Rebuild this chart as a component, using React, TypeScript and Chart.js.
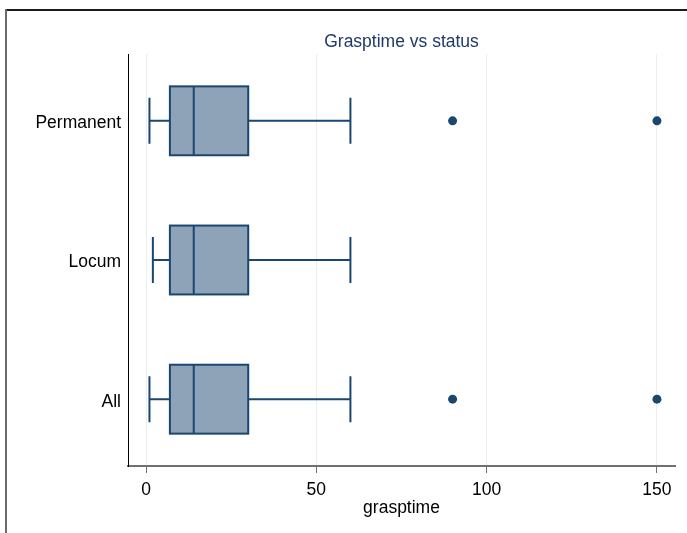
import React, { useEffect, useRef } from "react";
import { Chart, registerables } from "chart.js";
Chart.register(...registerables);

const categories = ["Permanent", "Locum", "All"];
const whiskerLow = [1, 2, 1];
const q1 = [7, 7, 7];
const median = [14, 14, 14];
const q3 = [30, 30, 30];
const whiskerHigh = [60, 60, 60];
const outliers: number[][] = [[90, 150], [], [90, 150]];
const xTicks = [0, 50, 100, 150];
const chartTitle = "Grasptime vs status";
const xTitle = "grasptime";

const NAVY = "#1a476f";
const FILL = "#8ea3b8";
const FONT = '"Liberation Sans", Arial, sans-serif';
const FS = 17.5;

export default function App() {
  const ref = useRef<HTMLCanvasElement | null>(null);
  useEffect(() => {
    document.body.style.margin = "0";
    const canvas = ref.current!;
    const boxPlugin = {
      id: "boxes",
      beforeDraw(chart: any) {
        const ctx = chart.ctx;
        ctx.save();
        ctx.fillStyle = "#fff";
        ctx.fillRect(0, 0, chart.width, chart.height);
        ctx.fillStyle = "#1a1a1a";
        ctx.fillRect(5, 9, chart.width - 5, 2);
        ctx.fillStyle = "#6a6a6a";
        ctx.fillRect(5, 9, 2, chart.height - 9);
        ctx.restore();
      },
      beforeDatasetsDraw(chart: any) {
        const ctx = chart.ctx;
        const xs = chart.scales.x;
        const ys = chart.scales.y;
        const half = Math.abs(ys.getPixelForValue(1.2475) - ys.getPixelForValue(1));
        const cap = Math.abs(ys.getPixelForValue(1.165) - ys.getPixelForValue(1));
        ctx.save();
        ctx.strokeStyle = NAVY;
        ctx.lineWidth = 2;
        categories.forEach((_, i) => {
          const yc = ys.getPixelForValue(i + 1);
          const xl = xs.getPixelForValue(whiskerLow[i]);
          const x1 = xs.getPixelForValue(q1[i]);
          const xm = xs.getPixelForValue(median[i]);
          const x3 = xs.getPixelForValue(q3[i]);
          const xh = xs.getPixelForValue(whiskerHigh[i]);
          ctx.beginPath();
          ctx.moveTo(xl, yc);
          ctx.lineTo(x1, yc);
          ctx.moveTo(x3, yc);
          ctx.lineTo(xh, yc);
          ctx.moveTo(xl, yc - cap);
          ctx.lineTo(xl, yc + cap);
          ctx.moveTo(xh, yc - cap);
          ctx.lineTo(xh, yc + cap);
          ctx.stroke();
          ctx.fillStyle = FILL;
          ctx.fillRect(x1, yc - half, x3 - x1, 2 * half);
          ctx.strokeRect(x1, yc - half, x3 - x1, 2 * half);
          ctx.beginPath();
          ctx.moveTo(xm, yc - half);
          ctx.lineTo(xm, yc + half);
          ctx.stroke();
        });
        ctx.restore();
      },
      afterDraw(chart: any) {
        const ctx = chart.ctx;
        const a = chart.chartArea;
        ctx.save();
        ctx.font = `${FS}px ${FONT}`;
        ctx.fillStyle = "#1f3a68";
        ctx.textAlign = "center";
        ctx.textBaseline = "middle";
        ctx.fillText(chartTitle, (a.left + a.right) / 2, 42);
        ctx.restore();
      },
    };

    const outlierData: { x: number; y: number }[] = [];
    outliers.forEach((arr, i) => arr.forEach((v) => outlierData.push({ x: v, y: i + 1 })));

    const chart = new Chart(canvas, {
      type: "scatter",
      data: {
        datasets: [
          {
            data: outlierData,
            backgroundColor: NAVY,
            borderColor: NAVY,
            pointRadius: 4.5,
            pointBorderWidth: 0,
          },
        ],
      },
      options: {
        animation: false,
        responsive: false,
        events: [],
        layout: { padding: { top: 54, right: 12, left: 0, bottom: 0 } },
        plugins: { legend: { display: false }, tooltip: { enabled: false }, title: { display: false } },
        scales: {
          x: {
            type: "linear",
            min: -5.3,
            max: 155.3,
            afterBuildTicks: (s: any) => {
              s.ticks = xTicks.map((v) => ({ value: v }));
            },
            afterFit: (s: any) => {
              s.height = 67;
            },
            grid: { color: "#e8eff2", lineWidth: 1, drawTicks: true, tickLength: 7, tickColor: "#707070", tickWidth: 1 },
            border: { display: true, color: "#707070", width: 2 },
            ticks: { font: { family: FONT, size: FS }, color: "#000", padding: 7, maxRotation: 0 },
            title: { display: true, text: xTitle, font: { family: FONT, size: FS }, color: "#000", padding: { top: 0, bottom: 14 } },
          },
          y: {
            type: "linear",
            reverse: true,
            min: 0.52,
            max: 3.48,
            afterBuildTicks: (s: any) => {
              s.ticks = categories.map((_, i) => ({ value: i + 1 }));
            },
            afterFit: (s: any) => {
              s.width = 128;
            },
            grid: { display: false, drawTicks: false },
            border: { display: true, color: "#000", width: 1 },
            ticks: {
              font: { family: FONT, size: FS },
              color: "#000",
              padding: 7,
              labelOffset: 2.5,
              callback: (v: any) => categories[Number(v) - 1] ?? "",
            },
          },
        },
      },
      plugins: [boxPlugin],
    });
    return () => chart.destroy();
  }, []);
  return <canvas ref={ref} width={687} height={533} style={{ display: "block" }} />;
}
